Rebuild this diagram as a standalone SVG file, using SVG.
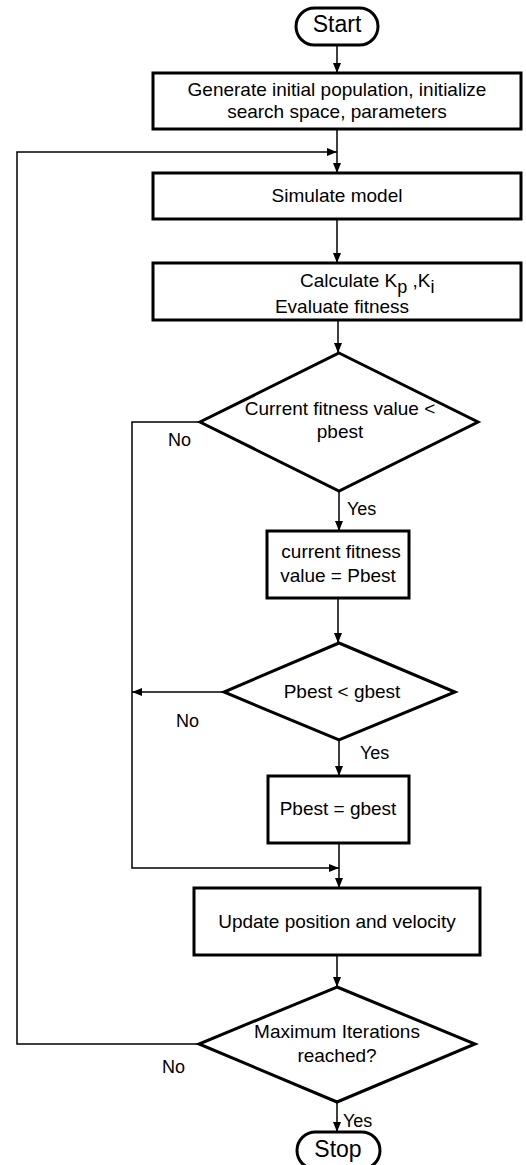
<svg xmlns="http://www.w3.org/2000/svg" width="526" height="1165" viewBox="0 0 526 1165">
<style>
.box{fill:#fff;stroke:#000;stroke-width:3}
.term{fill:#fff;stroke:#000;stroke-width:3}
.con{fill:none;stroke:#000;stroke-width:1.5}
text{font-family:"Liberation Sans",Arial,sans-serif;font-size:19px;fill:#000}
.c{text-anchor:middle}
.lbl{font-size:18px}
.big{font-size:23px}
</style>
<defs>
<marker id="ah" viewBox="0 0 10 8" refX="10" refY="4" markerWidth="10" markerHeight="8" markerUnits="userSpaceOnUse" orient="auto">
<path d="M0,0 L10,4 L0,8 z" fill="#000"/>
</marker>
</defs>
<rect width="526" height="1165" fill="#fff"/>
<g id="connectors">
<path class="con" d="M337,45 V73" marker-end="url(#ah)"/>
<path class="con" d="M337,129 V173" marker-end="url(#ah)"/>
<path class="con" d="M199,1044 H17 V152 H337" marker-end="url(#ah)"/>
<path class="con" d="M337,219 V263" marker-end="url(#ah)"/>
<path class="con" d="M338,320 V353" marker-end="url(#ah)"/>
<path class="con" d="M339,491 V531" marker-end="url(#ah)"/>
<path class="con" d="M200,422 H132 V868 H339" marker-end="url(#ah)"/>
<path class="con" d="M338,598 V643" marker-end="url(#ah)"/>
<path class="con" d="M224,692 H132" marker-end="url(#ah)"/>
<path class="con" d="M339,740 V776" marker-end="url(#ah)"/>
<path class="con" d="M339,843 V888" marker-end="url(#ah)"/>
<path class="con" d="M337,955 V987" marker-end="url(#ah)"/>
<path class="con" d="M337,1102 V1132" marker-end="url(#ah)"/>
<text class="lbl" x="168" y="446">No</text>
<text class="lbl" x="347" y="515">Yes</text>
<text class="lbl" x="176" y="727">No</text>
<text class="lbl" x="360" y="759">Yes</text>
<text class="lbl" x="162" y="1073">No</text>
<text class="lbl" x="343" y="1127">Yes</text>
</g>
<g id="start">
<rect class="term" x="296" y="8" width="82" height="37" rx="18.5"/>
<text class="c big" x="337" y="32">Start</text>
</g>
<g id="init">
<rect class="box" x="153" y="73" width="368" height="56"/>
<text class="c" x="337" y="96">Generate initial population, initialize</text>
<text class="c" x="337" y="118">search space, parameters</text>
</g>
<g id="simulate">
<rect class="box" x="153" y="173" width="368" height="46"/>
<text class="c" x="337" y="202">Simulate model</text>
</g>
<g id="calculate">
<rect class="box" x="153" y="263" width="368" height="57"/>
<text x="300" y="287">Calculate K<tspan font-size="18" dy="6">p</tspan><tspan dy="-6"> ,K</tspan><tspan font-size="18" dy="6">i</tspan></text>
<text class="c" x="342" y="313">Evaluate fitness</text>
</g>
<g id="decision1">
<polygon class="box" points="339,353 478,422 339,491 200,422"/>
<text class="c" x="340" y="415">Current fitness value &lt;</text>
<text class="c" x="340" y="438">pbest</text>
</g>
<g id="update-pbest">
<rect class="box" x="267" y="531" width="142" height="67"/>
<text class="c" x="341" y="558">current fitness</text>
<text class="c" x="338" y="582">value = Pbest</text>
</g>
<g id="decision2">
<polygon class="box" points="339,643 455,692 339,740 224,692"/>
<text class="c" x="342" y="698">Pbest &lt; gbest</text>
</g>
<g id="update-gbest">
<rect class="box" x="268" y="776" width="141" height="67"/>
<text class="c" x="338" y="815">Pbest = gbest</text>
</g>
<g id="update-pos">
<rect class="box" x="194" y="888" width="286" height="67"/>
<text class="c" x="337" y="928">Update position and velocity</text>
</g>
<g id="decision3">
<polygon class="box" points="337,987 475,1044 337,1102 199,1044"/>
<text class="c" x="337" y="1038">Maximum Iterations</text>
<text class="c" x="337" y="1062">reached?</text>
</g>
<g id="stop">
<rect class="term" x="297" y="1132" width="83" height="37" rx="18.5"/>
<text class="c big" x="338" y="1157">Stop</text>
</g>
</svg>
